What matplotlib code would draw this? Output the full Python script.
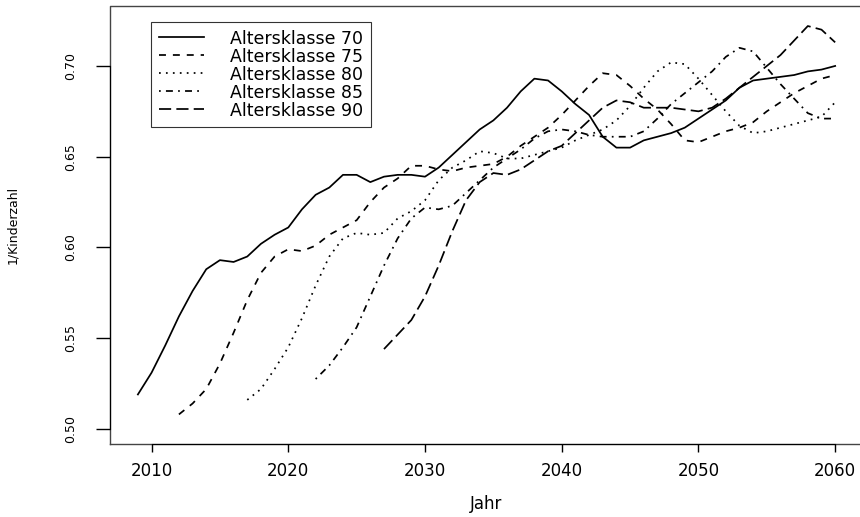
import numpy as np
import matplotlib
matplotlib.use("Agg")
import matplotlib.pyplot as plt

plt.rcParams["font.family"] = ["DejaVu Sans"]

labels = ["Altersklasse 70", "Altersklasse 75", "Altersklasse 80", "Altersklasse 85", "Altersklasse 90"]
start_years = [2009, 2012, 2017, 2022, 2027]
end_year = 2060

v70 = [0.519, 0.531, 0.546, 0.562, 0.576, 0.588, 0.593, 0.592, 0.595, 0.602,
       0.607, 0.611, 0.621, 0.629, 0.633, 0.640, 0.640, 0.636, 0.639, 0.640,
       0.640, 0.639, 0.644, 0.651, 0.658, 0.665, 0.670, 0.677, 0.686, 0.693,
       0.692, 0.686, 0.679, 0.673, 0.661, 0.655, 0.655, 0.659, 0.661, 0.663,
       0.666, 0.671, 0.676, 0.681, 0.688, 0.692, 0.693, 0.694, 0.695, 0.697,
       0.698, 0.700]
v75 = [0.508, 0.514, 0.522, 0.536, 0.553, 0.571, 0.586, 0.595, 0.599,
       0.598, 0.601, 0.607, 0.611, 0.615, 0.625, 0.633, 0.638, 0.645, 0.645,
       0.643, 0.642, 0.644, 0.645, 0.646, 0.650, 0.656, 0.661, 0.666, 0.673,
       0.681, 0.689, 0.696, 0.695, 0.689, 0.682, 0.676, 0.668, 0.659, 0.658,
       0.661, 0.664, 0.666, 0.669, 0.675, 0.680, 0.685, 0.689, 0.693, 0.695]
v80 = [0.516, 0.522, 0.533, 0.545,
       0.561, 0.579, 0.595, 0.605, 0.608, 0.607, 0.608, 0.616, 0.620, 0.626,
       0.637, 0.644, 0.648, 0.653, 0.652, 0.649, 0.649, 0.651, 0.653, 0.655,
       0.659, 0.662, 0.665, 0.670, 0.678, 0.688, 0.697, 0.702, 0.701, 0.693,
       0.684, 0.675, 0.667, 0.663, 0.664, 0.666, 0.668, 0.670, 0.672, 0.680]
v85 = [0.5275, 0.535, 0.545, 0.556, 0.573, 0.590, 0.605, 0.616, 0.622,
       0.621, 0.623, 0.630, 0.637, 0.644, 0.649, 0.654, 0.660, 0.664, 0.665,
       0.664, 0.662, 0.661, 0.661, 0.661, 0.664, 0.671, 0.679, 0.685, 0.691,
       0.697, 0.705, 0.710, 0.708, 0.699, 0.690, 0.682, 0.674, 0.671, 0.671]
v90 = [0.544, 0.552, 0.560, 0.573,
       0.590, 0.609, 0.626, 0.636, 0.641, 0.640, 0.643, 0.648, 0.653, 0.656,
       0.663, 0.670, 0.677, 0.681, 0.680, 0.677, 0.677, 0.677, 0.676, 0.675,
       0.677, 0.682, 0.688, 0.694, 0.700, 0.706, 0.714, 0.722, 0.720, 0.713]
series = [v70, v75, v80, v85, v90]

# R line types: solid, dashed, dotted, dotdash, longdash
styles = ["-", (0, (4, 4)), (0, (1, 3)), (0, (1, 3, 4, 3)), (0, (7, 3))]

fig = plt.figure(figsize=(8.6, 5.17), dpi=100)
# plot region runs past the right edge of the picture (cropped like the original)
ax = fig.add_axes([110 / 860, 73 / 517, 770 / 860, 438.3 / 517])

for yr0, vals, ls, lab in zip(start_years, series, styles, labels):
    yrs = np.arange(yr0, end_year + 1)
    ax.plot(yrs, vals, color="black", lw=1.25, linestyle=ls, label=lab)

ax.set_xlim(2006.96, 2006.96 + 770 / 13.672)
ax.set_ylim(0.4917, 0.7332)

ax.set_xticks([2010, 2020, 2030, 2040, 2050, 2060])
ax.set_yticks([0.50, 0.55, 0.60, 0.65, 0.70])
ax.set_yticklabels(["0.50", "0.55", "0.60", "0.65", "0.70"], rotation=90, va="center")

ax.tick_params(axis="x", length=6, width=1, pad=7, labelsize=12)
ax.tick_params(axis="y", length=10, width=1, pad=14, labelsize=9)

# R style: axis lines only span the ticks, grey box around the plot region
for s in ["top", "right"]:
    ax.spines[s].set_visible(False)
ax.spines["left"].set_bounds(0.50, 0.70)
ax.spines["bottom"].set_bounds(2010, 2060)
box_kw = dict(transform=ax.transAxes, color="#444444", lw=1, clip_on=False, zorder=0)
ax.plot([0, 0, 1], [0, 1, 1], **box_kw)
ax.plot([0, 1], [0, 0], **box_kw)

ax.set_xlabel("Jahr", fontsize=12, labelpad=11)
ax.xaxis.label.set_x(376.5 / 770)
ax.set_ylabel("1/Kinderzahl", fontsize=9, labelpad=32)

leg = ax.legend(loc="upper left", bbox_to_anchor=(41 / 770, (438.3 - 16) / 438.3),
                fontsize=12.5, frameon=True, fancybox=False, edgecolor="black",
                handlelength=2.6, handletextpad=1.5, labelspacing=0.0,
                borderpad=0.45, borderaxespad=0)
leg.get_frame().set_linewidth(0.8)

fig.savefig("out.png", dpi=100)
